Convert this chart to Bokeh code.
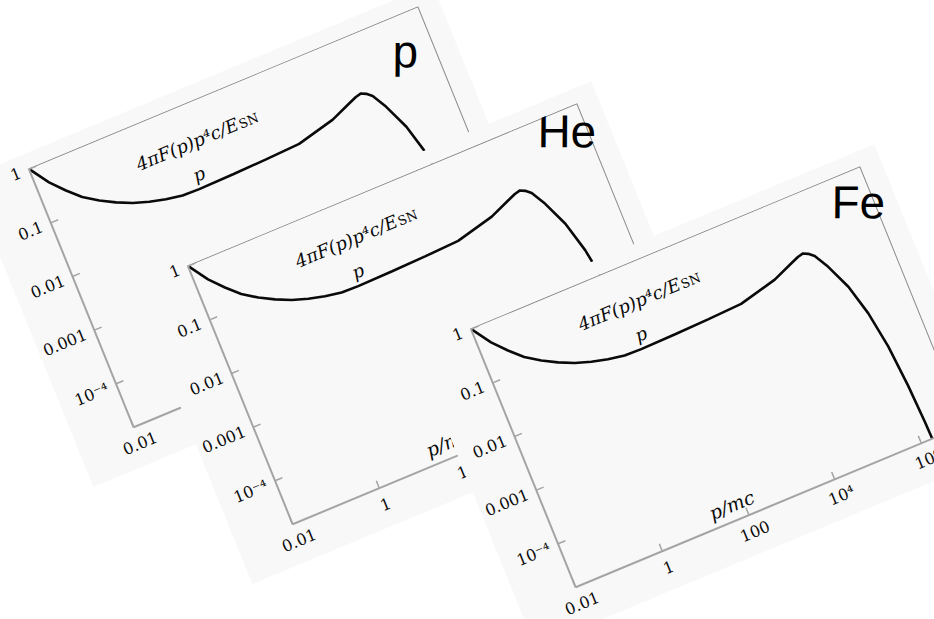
import math

from bokeh.embed import file_html
from bokeh.models import (Column, CustomJSTickFormatter, FixedTicker, InlineStyleSheet,
                          Label, Range1d)
from bokeh.plotting import figure
from bokeh.resources import INLINE

# Normalised spectrum 4πF(p)p⁴c/E_SN against momentum p/mc
p_mc = [0.01, 0.0195, 0.0363, 0.0676, 0.138, 0.285, 0.603, 1.32, 2.95, 6.76,
        16.2, 100, 589, 3548, 25700, 74100, 112000, 151000, 190000, 245000,
        372000, 646000, 977000, 1.32e6, 1.58e6, 1.74e6, 1.78e6]
spectrum = [1.0, 0.447, 0.257, 0.158, 0.107, 0.0776, 0.0589, 0.0479, 0.0407, 0.0363,
            0.0355, 0.0365, 0.038, 0.0405, 0.0589, 0.0832, 0.095, 0.100, 0.091, 0.0759,
            0.0417, 0.0148, 0.00417, 0.000912, 0.000158, 3.24e-5, 1.6e-5]

x_ticks = [0.01, 1, 100, 1e4, 1e6]
x_tick_labels = ["0.01", "1", "100", "10⁴", "10⁶"]
y_ticks = [1e-4, 1e-3, 1e-2, 0.1, 1]
y_tick_labels = ["10⁻⁴", "0.001", "0.01", "0.1", "1"]

# plotted box: p/mc from 0.01 to 1e7, spectrum from 10^-4.8 to 1
box_x = (0.01, 1e7)
box_y = (10 ** -4.8, 1.0)

species = ["p", "He", "Fe"]

# ---- sheet geometry -------------------------------------------------------
BOX_W, FRAME_H = 422, 280            # plotted box in pixels
EXTRA_W = 20                         # room right of the box for the species name
FRAME_W = BOX_W + EXTRA_W
BORDER_L, BORDER_R, BORDER_T, BORDER_B = 60, 2, 15, 40
SHEET_W, SHEET_H = BORDER_L + FRAME_W + BORDER_R, BORDER_T + FRAME_H + BORDER_B
DEC_PER_PX = (math.log10(box_x[1]) - math.log10(box_x[0])) / BOX_W
X_LOG = (math.log10(box_x[0]), math.log10(box_x[0]) + DEC_PER_PX * FRAME_W)
Y_LOG = (math.log10(box_y[0]), 0.01)
# tilt of each sheet (linear part of the CSS matrix)
A, B, C, D = 0.9218, -0.3839, 0.375, 0.925
TILT_DEG = math.degrees(math.atan2(-B, A))
# where the top-left corner of each plot frame lands on the page
sheet_corner = {"p": (28, 168), "He": (187, 265), "Fe": (470, 328)}
# species names: left edge and baseline on the page
title_pos = {"p": (392, 51), "He": (537, 131), "Fe": (831, 202)}

SERIF = "DejaVu Serif"
PAPER = "#f8f8f8"
AXIS_GREY = "#a4a4a4"
BOX_GREY = "#8c8c8c"
INK = "#0a0a0a"

tick_code = """
const k = tick_vals.findIndex(t => Math.abs(Math.log10(t) - Math.log10(tick)) < 1e-6);
return k >= 0 ? tick_text[k] : "";
"""


def page_to_data(e, f, X, Y):
    """Page pixel -> data coordinates of a tilted sheet."""
    det = A * D - C * B
    dx, dy = X - e, Y - f
    lx = (D * dx - C * dy) / det
    ly = (-B * dx + A * dy) / det
    xl = X_LOG[0] + (lx - BORDER_L) * (X_LOG[1] - X_LOG[0]) / FRAME_W
    yl = Y_LOG[1] - (ly - BORDER_T) * (Y_LOG[1] - Y_LOG[0]) / FRAME_H
    return 10 ** xl, 10 ** yl


def sheet(name):
    cx, cy = sheet_corner[name]
    e = cx - A * BORDER_L - C * BORDER_T
    f = cy - B * BORDER_L - D * BORDER_T
    tilt = InlineStyleSheet(css=f"""
:host {{ overflow: visible !important; }}
:host > div {{
  transform-origin: 0 0;
  transform: matrix({A}, {B}, {C}, {D}, {e:.2f}, {f:.2f});
}}
""")
    fig = figure(
        x_axis_type="log", y_axis_type="log",
        x_range=Range1d(10 ** X_LOG[0], 10 ** X_LOG[1]),
        y_range=Range1d(10 ** Y_LOG[0], 10 ** Y_LOG[1]),
        width=SHEET_W, height=SHEET_H, sizing_mode="fixed",
        min_border_left=BORDER_L, min_border_right=BORDER_R,
        min_border_top=BORDER_T, min_border_bottom=BORDER_B,
        output_backend="svg", toolbar_location=None,
        background_fill_color=PAPER, border_fill_color=PAPER,
        outline_line_color=None,
        stylesheets=[tilt],
        styles={"position": "absolute", "left": "0px", "top": "0px",
                "overflow": "visible"},
    )
    fig.grid.visible = False

    fig.xaxis.ticker = FixedTicker(ticks=x_ticks)
    fig.yaxis.ticker = FixedTicker(ticks=y_ticks)
    fig.xaxis.formatter = CustomJSTickFormatter(
        args=dict(tick_vals=x_ticks, tick_text=x_tick_labels), code=tick_code)
    fig.yaxis.formatter = CustomJSTickFormatter(
        args=dict(tick_vals=y_ticks, tick_text=y_tick_labels), code=tick_code)
    for ax in (fig.xaxis, fig.yaxis):
        ax.axis_line_color = AXIS_GREY
        ax.axis_line_width = 2
        ax.major_tick_line_color = AXIS_GREY
        ax.major_tick_line_width = 1.5
        ax.major_tick_in = 8
        ax.major_tick_out = 0
        ax.minor_tick_line_color = None
        ax.major_label_text_font = SERIF
        ax.major_label_text_font_size = "16px"
        ax.major_label_text_color = INK
    fig.xaxis.major_label_standoff = 8
    fig.yaxis.major_label_standoff = 9

    # top and right edges of the plotted box
    fig.line([box_x[0], box_x[1], box_x[1]], [box_y[1], box_y[1], box_y[0]],
             line_color=BOX_GREY, line_width=1)

    fig.line(p_mc, spectrum, line_color=INK, line_width=2.6)

    # quantity plotted, written inside the frame near the top
    fig.add_layout(Label(x=40, y=0.22, x_offset=42, text="4πF(p)p⁴c/E",
                         text_font=SERIF, text_font_style="italic",
                         text_font_size="18px", text_align="right",
                         text_baseline="middle", text_color=INK))
    fig.add_layout(Label(x=40, y=0.22, x_offset=43, y_offset=-2, text="SN",
                         text_font=SERIF, text_font_size="13px",
                         text_align="left", text_baseline="middle",
                         text_color=INK))
    # curve label
    fig.add_layout(Label(x=21, y=0.062, text="p", text_font=SERIF,
                         text_font_style="italic", text_font_size="18px",
                         text_align="center", text_baseline="middle",
                         text_color=INK))
    # momentum axis label
    fig.add_layout(Label(x=56, y=3e-5, text="p/mc", text_font=SERIF,
                         text_font_style="italic", text_font_size="19px",
                         text_align="center", text_baseline="middle",
                         text_color=INK))
    # species name, kept upright on the page
    tx, ty = page_to_data(e, f, *title_pos[name])
    fig.add_layout(Label(x=tx, y=ty, text=name, angle=-TILT_DEG, angle_units="deg",
                         text_font="Liberation Sans", text_font_size="46px",
                         text_align="left", text_baseline="alphabetic",
                         text_color="#000000"))
    return fig


sheets = [sheet(name) for name in species]

p = Column(
    children=sheets,
    styles={"position": "relative", "width": "934px", "height": "619px",
            "overflow": "hidden", "background": "#ffffff"},
)

open("out.html", "w").write(file_html(p, INLINE))
